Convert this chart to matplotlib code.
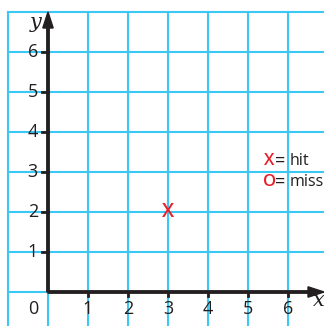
import matplotlib
matplotlib.use("Agg")
import matplotlib.pyplot as plt

# chart data
x_ticks = [1, 2, 3, 4, 5, 6]
y_ticks = [1, 2, 3, 4, 5, 6]
hits_x = [3]
hits_y = [2]
legend_labels = ["hit", "miss"]

ink = "#231f20"
red = "#e8202a"
grid_blue = "#3cc8f4"

fig = plt.figure(figsize=(3.24, 3.26), dpi=100)
ax = fig.add_axes([0, 0, 1, 1])
ax.set_xlim(-1.2, 6.9)
ax.set_ylim(-0.85, 7.3)
ax.axis("off")

# square grid, clipped box starting at x=-1, y=7
for gx in range(-1, 7):
    ax.plot([gx, gx], [-0.85, 7], color=grid_blue, lw=1.5, zorder=1)
for gy in range(0, 8):
    ax.plot([-1, 6.9], [gy, gy], color=grid_blue, lw=1.5, zorder=1)

# axes with arrows
ax.arrow(0, 0, 0, 7, width=0.06, head_width=0.26, head_length=0.4,
         length_includes_head=True, color=ink, zorder=3)
ax.arrow(0, 0, 6.9, 0, width=0.06, head_width=0.26, head_length=0.4,
         length_includes_head=True, color=ink, zorder=3)

fs = 13
for t in y_ticks:
    ax.plot([-0.15, 0], [t, t], color=ink, lw=2, zorder=3)
    ax.text(-0.25, t, str(t), ha="right", va="center", fontsize=fs,
            color=ink, family="Open Sans")
for t in x_ticks:
    ax.plot([t, t], [-0.1, 0], color=ink, lw=2, zorder=3)
    ax.text(t, -0.42, str(t), ha="center", va="center", fontsize=fs,
            color=ink, family="Open Sans")
ax.text(-0.37, -0.42, "0", ha="center", va="center", fontsize=fs,
        color=ink, family="Open Sans")

ax.text(-0.32, 6.74, "y", ha="center", va="center", fontsize=15,
        style="italic", family="DejaVu Serif", color=ink)
ax.text(6.78, -0.22, "x", ha="center", va="center", fontsize=15,
        style="italic", family="DejaVu Serif", color=ink)

# hits
for hx, hy in zip(hits_x, hits_y):
    ax.text(hx, hy, "X", ha="center", va="center", fontsize=14,
            color=red, family="Open Sans", weight="semibold", zorder=4)

# key
ax.text(5.54, 3.28, "X", ha="center", va="center", fontsize=12,
        color=red, family="Open Sans", weight="semibold")
ax.text(5.55, 2.76, "O", ha="center", va="center", fontsize=12,
        color=red, family="Open Sans", weight="semibold")
for ky, lab in zip([3.28, 2.76], legend_labels):
    ax.text(5.81, ky, "=", ha="center", va="center", fontsize=13,
            color=ink, family="Open Sans")
    ax.text(6.04, ky, lab, ha="left", va="center", fontsize=11.5,
            color=ink, family="Open Sans")

fig.savefig("out.png", dpi=100)
